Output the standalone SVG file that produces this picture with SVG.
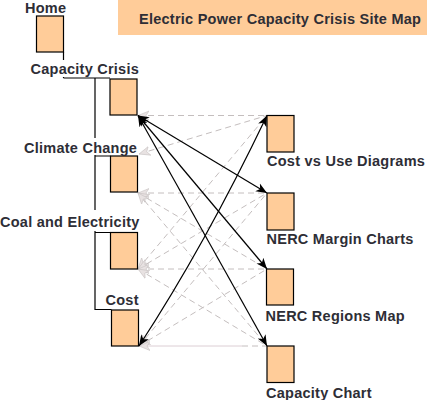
<svg xmlns="http://www.w3.org/2000/svg" width="427" height="400" viewBox="0 0 427 400">
<defs>
<marker id="bk" markerUnits="userSpaceOnUse" markerWidth="14" markerHeight="12" refX="11" refY="6" orient="auto-start-reverse"><path d="M0 1.500L11 6L0 10.500L3 6Z" fill="#000"/></marker>
<marker id="gr" markerUnits="userSpaceOnUse" markerWidth="14" markerHeight="12" refX="11" refY="6" orient="auto-start-reverse"><path d="M0 1.500L11 6L0 10.500L3 6Z" fill="#e8e2e2" stroke="#c8c2c2" stroke-width=".6"/></marker>
</defs>
<style>
text{font-family:"Liberation Sans",Arial,sans-serif;font-weight:bold;font-size:14.500px;letter-spacing:.25px;fill:#2e2e36}
.box{fill:#ffcc99;stroke:#000;stroke-width:1.2}
.t{fill:none;stroke:#000;stroke-width:1.200}
.g{fill:none;stroke:#c4bebe;stroke-width:1;stroke-dasharray:6 4;marker-start:url(#gr)}
.b{fill:none;stroke:#000;stroke-width:1.200;marker-start:url(#bk);marker-end:url(#bk)}
.m{fill:#fff}
</style>
<rect id="banner" x="118" y="0" width="309" height="35" fill="#ffcc99"/>
<text x="139" y="23.500">Electric Power Capacity Crisis Site Map</text>
<g id="connectors">
<path class="t" d="M63.500 52V78M63.500 78H110M95 78V309.500H111.500M95 156H110.500M95 232.500H110.500"/>
<path class="g" d="M138 115.500H267"/>
<path class="g" d="M139 154L267 115.500"/>
<path class="g" d="M138 193H267"/>
<path class="g" d="M138 193L267 269"/>
<path class="g" d="M138 193L267 346"/>
<path class="g" d="M138 269L267 115.500"/>
<path class="g" d="M138 269L267 193"/>
<path class="g" d="M138 269H267"/>
<path class="g" d="M138 269L267 346"/>
<path class="g" d="M139 346L267 193"/>
<path class="g" d="M139 346L267 269"/>
<path d="M139 346H242" fill="none" stroke="#dcced4" stroke-width="1" marker-start="url(#gr)"/>
<path d="M242 346H267" fill="none" stroke="#c4bebe" stroke-width="1" stroke-dasharray="6 4"/>
<path class="b" d="M138 115.500L267 193"/>
<path class="b" d="M138 115.500L267 269"/>
<path class="b" d="M138 115.500L267 346"/>
<path class="b" d="M139 346Q205 245 267 115.500"/>
</g>
<g id="home"><rect class="box" x="36.500" y="16" width="27" height="36"/><text x="25" y="13">Home</text></g>
<g id="capacity-crisis"><rect class="m" x="30" y="60" width="110" height="17"/><rect class="box" x="110" y="79" width="27" height="36"/><text x="30.500" y="74">Capacity Crisis</text></g>
<g id="climate-change"><rect class="m" x="24" y="138" width="114" height="17"/><rect class="box" x="110.500" y="156" width="27" height="36"/><text x="24" y="153">Climate Change</text></g>
<g id="coal"><rect class="m" x="0" y="210" width="138" height="21"/><rect class="box" x="110.500" y="232.500" width="27" height="36.500"/><text x="0" y="227">Coal and Electricity</text></g>
<g id="cost"><rect class="box" x="111.500" y="310" width="27" height="36"/><text x="105.500" y="305">Cost</text></g>
<g id="cost-vs-use"><rect class="box" x="267" y="115.500" width="27" height="36.500"/><text x="267" y="166">Cost vs Use Diagrams</text></g>
<g id="margin"><rect class="box" x="267" y="193" width="27" height="37"/><text x="266.500" y="243.500">NERC Margin Charts</text></g>
<g id="regions"><rect class="box" x="266.500" y="269" width="27" height="36"/><text x="265.500" y="321">NERC Regions Map</text></g>
<g id="chart"><rect class="box" x="267" y="346" width="27" height="36.500"/><text x="266" y="398">Capacity Chart</text></g>
</svg>
